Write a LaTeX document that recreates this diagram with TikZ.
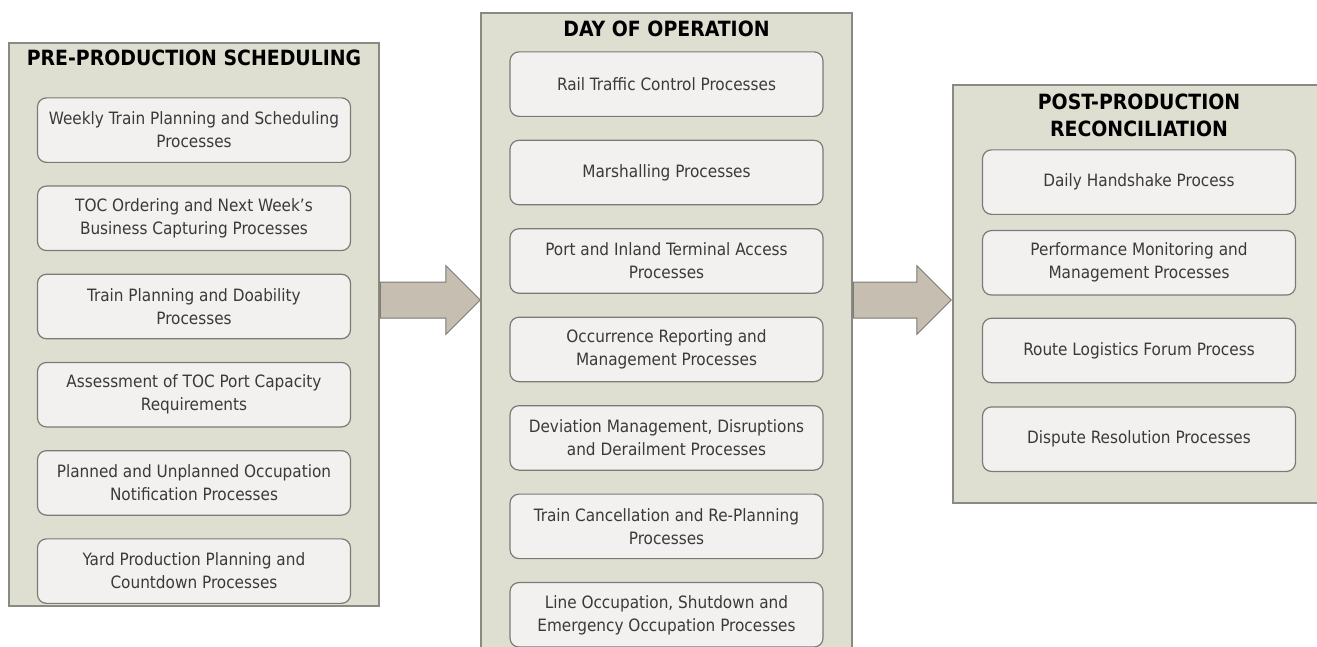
\documentclass[tikz,border=0pt]{standalone}
\usepackage{fontspec}
\setmainfont{DejaVuSansCondensed}[Extension=.ttf, BoldFont=DejaVuSansCondensed-Bold]
\usetikzlibrary{positioning}
\usetikzlibrary{shapes.arrows}

\definecolor{panelfill}{HTML}{DFDFD1}
\definecolor{panelline}{HTML}{8A8A82}
\definecolor{boxfill}{HTML}{F2F1EF}
\definecolor{boxline}{HTML}{7A7A76}
\definecolor{textgray}{HTML}{3A3A3A}
\definecolor{arrowfill}{HTML}{C5BEB1}
\definecolor{arrowline}{HTML}{7E7A74}

\begin{document}
\begin{tikzpicture}[x=1pt, y=-1pt,
		panel/.style={draw=panelline, fill=panelfill, line width=1.5pt, rectangle, inner sep=0pt},
		title/.style={font=\bfseries\fontsize{21}{27}\selectfont, align=center, text=black, inner sep=0pt},
		procbox/.style={draw=boxline, fill=boxfill, line width=1.2pt, rounded corners=9pt, rectangle, minimum width=313pt, minimum height=64.5pt, align=center, text=textgray, font=\fontsize{17}{23}\selectfont},
		blockarrow/.style={single arrow, draw=arrowline, fill=arrowfill, line width=1pt, minimum width=68pt, single arrow head extend=16.5pt, single arrow tip angle=90, inner xsep=0pt, inner ysep=17.5pt}
		]
		\useasboundingbox (0,0) rectangle (1317,646);
		
		% Panels
		\node[panel, minimum width=370pt, minimum height=563pt] (pre) at (194,324.5) {};
		\node[panel, minimum width=371pt, minimum height=647pt] (day) at (666.5,336.5) {};
		\node[panel, minimum width=372pt, minimum height=418pt] (post) at (1139,294) {};
		
		% Titles
		\node[title] (preT) at ([yshift=-16pt]pre.north) {PRE-PRODUCTION SCHEDULING};
		\node[title] (dayT) at ([yshift=-17pt]day.north) {DAY OF OPERATION};
		\node[title] (postT) at ([yshift=-31.5pt]post.north) {POST-PRODUCTION\\RECONCILIATION};
		
		% Pre-production
		\node[procbox, below=55pt of pre.north] (pre1) {Weekly  Train Planning and Scheduling\\Processes};
		\node[procbox, below=22.5pt of pre1] (pre2) {TOC Ordering and Next Week’s\\Business Capturing Processes};
		\node[procbox, below=22.5pt of pre2] (pre3) {Train Planning and Doability\\Processes};
		\node[procbox, below=22.5pt of pre3] (pre4) {Assessment of TOC Port Capacity\\Requirements};
		\node[procbox, below=22.5pt of pre4] (pre5) {Planned and Unplanned Occupation\\Notification Processes};
		\node[procbox, below=22.5pt of pre5] (pre6) {Yard Production Planning and\\Countdown Processes};
		
		% Day of operation
		\node[procbox, below=39pt of day.north] (day1) {Rail Traffic Control Processes};
		\node[procbox, below=22.75pt of day1] (day2) {Marshalling Processes};
		\node[procbox, below=22.75pt of day2] (day3) {Port and Inland Terminal Access\\Processes};
		\node[procbox, below=22.75pt of day3] (day4) {Occurrence Reporting and\\Management Processes};
		\node[procbox, below=22.75pt of day4] (day5) {Deviation Management, Disruptions\\and Derailment Processes};
		\node[procbox, below=22.75pt of day5] (day6) {Train Cancellation and Re-Planning\\Processes};
		\node[procbox, below=22.75pt of day6] (day7) {Line Occupation, Shutdown and\\Emergency Occupation Processes};
		
		% Post-production
		\node[procbox, below=65pt of post.north] (post1) {Daily Handshake Process};
		\node[procbox, below=15pt of post1] (post2) {Performance Monitoring and\\Management Processes};
		\node[procbox, below=22pt of post2] (post3) {Route Logistics Forum Process};
		\node[procbox, below=23pt of post3] (post4) {Dispute Resolution Processes};
		
		% Arrows
		\coordinate (arrowrow) at (0,300);
		\node[blockarrow, minimum height=100pt, anchor=tail] (arr1) at (pre.east |- arrowrow) {};
		\node[blockarrow, minimum height=98pt, anchor=tail] (arr2) at (day.east |- arrowrow) {};
	\end{tikzpicture}
\end{document}
